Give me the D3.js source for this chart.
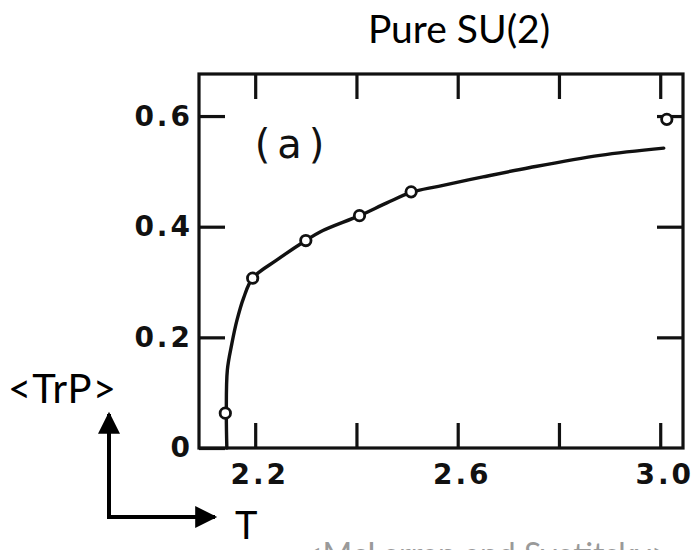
<!DOCTYPE html>
<html>
<head>
<meta charset="utf-8">
<script src="https://cdn.jsdelivr.net/npm/d3@7"></script>
<style>
  html, body { margin: 0; padding: 0; background: #fff; }
  svg { display: block; }
</style>
</head>
<body>
<svg id="chart" width="697" height="550"></svg>
<script>
// Polyakov loop expectation <TrP> vs temperature, pure SU(2)
const pointT = [2.141, 2.195, 2.300, 2.406, 2.508, 3.013];
const pointV = [0.063, 0.307, 0.375, 0.420, 0.463, 0.594];

// fitted curve through the data
const curveT = [2.144, 2.143, 2.145, 2.154, 2.164, 2.177, 2.195, 2.243, 2.300, 2.329, 2.406, 2.460, 2.508, 2.562, 2.650, 2.743, 2.881, 3.007];
const curveV = [0, 0.063, 0.141, 0.189, 0.231, 0.271, 0.307, 0.340, 0.375, 0.391, 0.420, 0.443, 0.462, 0.473, 0.490, 0.507, 0.529, 0.542];

const xTicks = [2.2, 2.4, 2.6, 2.8, 3.0];
const xTickLabels = ["2.2", "", "2.6", "", "3.0"];
const yTicks = [0, 0.2, 0.4, 0.6];
const yTickLabels = ["0", "0.2", "0.4", "0.6"];

const svg = d3.select("#chart");

const x = d3.scaleLinear().domain([2.089, 3.045]).range([199, 683]);
const y = d3.scaleLinear().domain([0, 0.676]).range([448, 74]);

const ink = "#111";
const tickFont = "'DejaVu Sans', sans-serif";

// plot frame
svg.append("rect")
  .attr("x", x.range()[0]).attr("y", y.range()[1])
  .attr("width", x.range()[1] - x.range()[0])
  .attr("height", y.range()[0] - y.range()[1])
  .attr("fill", "none").attr("stroke", ink).attr("stroke-width", 3.2);

function styleAxis(g) {
  g.select(".domain").remove();
  g.selectAll(".tick line").attr("stroke", ink).attr("stroke-width", 3.2);
  g.selectAll(".tick text")
    .attr("fill", ink)
    .style("font-family", tickFont)
    .style("font-weight", "bold")
    .style("font-size", "28px")
    .style("letter-spacing", "3px");
}

// bottom axis (inward ticks, labels outside)
svg.append("g")
  .attr("transform", `translate(0,${y(0)})`)
  .call(d3.axisBottom(x).tickValues(xTicks)
    .tickSizeInner(-25).tickSizeOuter(0).tickPadding(16)
    .tickFormat((d, i) => xTickLabels[i]))
  .call(styleAxis)
  .call(g => g.selectAll(".tick text").attr("dx", 4));

// top axis, ticks only
svg.append("g")
  .attr("transform", `translate(0,${y.range()[1]})`)
  .call(d3.axisTop(x).tickValues(xTicks)
    .tickSizeInner(-25).tickSizeOuter(0).tickFormat(""))
  .call(styleAxis);

// left axis
svg.append("g")
  .attr("transform", `translate(${x.range()[0]},0)`)
  .call(d3.axisLeft(y).tickValues(yTicks)
    .tickSizeInner(-26).tickSizeOuter(0).tickPadding(6)
    .tickFormat((d, i) => yTickLabels[i]))
  .call(styleAxis);

// right axis, ticks only
svg.append("g")
  .attr("transform", `translate(${x.range()[1]},0)`)
  .call(d3.axisRight(y).tickValues(yTicks.filter(v => v > 0))
    .tickSizeInner(-26).tickSizeOuter(0).tickFormat(""))
  .call(styleAxis);

// fitted curve
const curveData = curveT.map((t, i) => [t, curveV[i]]);
svg.append("path")
  .datum(curveData)
  .attr("fill", "none")
  .attr("stroke", ink)
  .attr("stroke-width", 3.4)
  .attr("stroke-linecap", "round")
  .attr("d", d3.line().x(d => x(d[0])).y(d => y(d[1])).curve(d3.curveCatmullRom.alpha(0.5)));

// data points
svg.selectAll("circle.pt")
  .data(pointT.map((t, i) => [t, pointV[i]]))
  .join("circle")
  .attr("class", "pt")
  .attr("cx", d => x(d[0]))
  .attr("cy", d => y(d[1]))
  .attr("r", 5.2)
  .attr("fill", "#fff")
  .attr("stroke", ink)
  .attr("stroke-width", 2.8);

// panel label
svg.append("text")
  .attr("x", 293).attr("y", 158)
  .attr("text-anchor", "middle")
  .style("font-family", tickFont)
  .style("font-size", "40px")
  .style("letter-spacing", "7px")
  .attr("fill", ink)
  .text("(a)");

const labelFont = "Lato, 'Open Sans', sans-serif";

// title
svg.append("text")
  .attr("x", 459).attr("y", 43)
  .attr("text-anchor", "middle")
  .style("font-family", labelFont)
  .style("font-size", "39px")
  .attr("fill", "#000")
  .text("Pure SU(2)");

// axis quantity labels
svg.append("text")
  .attr("x", 8).attr("y", 403)
  .style("font-family", labelFont)
  .style("font-size", "40px")
  .style("letter-spacing", "1px")
  .attr("fill", "#000")
  .text("<TrP>");

svg.append("text")
  .attr("x", 235).attr("y", 539)
  .style("font-family", labelFont)
  .style("font-size", "38px")
  .attr("fill", "#000")
  .text("T");

// direction arrows
const defs = svg.append("defs");
defs.append("marker")
  .attr("id", "head")
  .attr("viewBox", "0 0 10 10")
  .attr("refX", 9).attr("refY", 5)
  .attr("markerWidth", 6).attr("markerHeight", 5.5)
  .attr("markerUnits", "strokeWidth")
  .attr("orient", "auto")
  .append("path")
  .attr("d", "M0,0 L10,5 L0,10 Z")
  .attr("fill", "#000");

svg.append("line")
  .attr("x1", 109).attr("y1", 519).attr("x2", 109).attr("y2", 414)
  .attr("stroke", "#000").attr("stroke-width", 4)
  .attr("marker-end", "url(#head)");
svg.append("line")
  .attr("x1", 107).attr("y1", 517).attr("x2", 215).attr("y2", 517)
  .attr("stroke", "#000").attr("stroke-width", 4)
  .attr("marker-end", "url(#head)");

// source credit
svg.append("text")
  .attr("x", 304).attr("y", 566)
  .style("font-family", labelFont)
  .style("font-size", "32px")
  .attr("fill", "#9a9a9a")
  .text("<McLerran and Svetitsky>");
</script>
</body>
</html>
